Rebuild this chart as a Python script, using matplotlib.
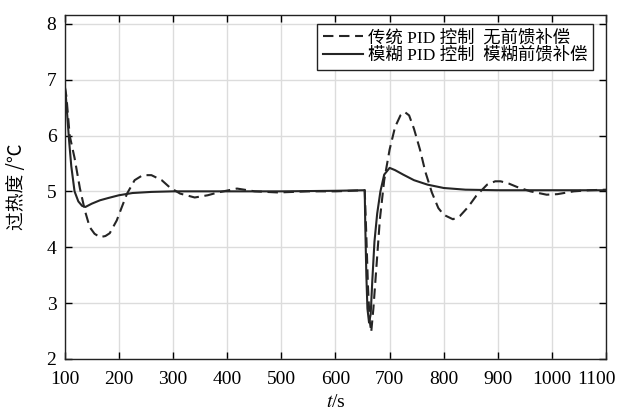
import matplotlib
matplotlib.use("Agg")
import matplotlib.pyplot as plt
import matplotlib.transforms as mtransforms

# ---- data ----
t_pid = [100, 103, 106, 109, 118, 128, 137, 146, 155, 165, 175, 183, 196, 205, 215,
         229, 244, 260, 279, 294, 313, 340, 364, 383, 418, 451, 494, 550, 600, 654,
         657, 660, 663, 666, 670, 676, 682, 690, 700, 710, 720, 728, 736, 745, 756,
         766, 778, 790, 800, 817, 830, 845, 860, 880, 895, 905, 920, 935, 960, 990,
         1010, 1040, 1070, 1100]
v_pid = [6.88, 6.7, 6.35, 6.0, 5.6, 5.05, 4.66, 4.36, 4.24, 4.18, 4.2, 4.25, 4.48, 4.71, 4.96,
         5.2, 5.29, 5.29, 5.2, 5.07, 4.96, 4.89, 4.93, 4.98, 5.05, 5.0, 4.98, 5.0, 5.0, 5.02,
         4.2, 3.3, 2.7, 2.48, 2.9, 3.7, 4.5, 5.2, 5.75, 6.15, 6.36, 6.42, 6.36, 6.12, 5.75,
         5.35, 4.98, 4.7, 4.58, 4.5, 4.56, 4.72, 4.92, 5.12, 5.18, 5.18, 5.14, 5.08, 5.0, 4.94,
         4.95, 5.0, 5.02, 5.03]

t_fuzzy = [100, 102, 105, 108, 112, 118, 125, 132, 138, 150, 165, 180, 200, 225, 260,
           300, 400, 500, 600, 654, 655, 657, 659, 662, 665, 668, 672, 677, 683, 690,
           700, 710, 725, 745, 770, 800, 840, 900, 1000, 1100]
v_fuzzy = [6.88, 6.7, 6.3, 5.9, 5.45, 5.0, 4.82, 4.74, 4.72, 4.78, 4.84, 4.88, 4.93, 4.97, 4.99,
           5.0, 5.0, 5.0, 5.01, 5.02, 4.4, 3.5, 2.9, 2.65, 2.8, 3.4, 4.1, 4.6, 5.0, 5.3,
           5.42, 5.38, 5.3, 5.2, 5.12, 5.06, 5.03, 5.02, 5.02, 5.02]

x_ticks = [100, 200, 300, 400, 500, 600, 700, 800, 900, 1000, 1100]
y_ticks = [2, 3, 4, 5, 6, 7, 8]
label_pid = "传统 PID 控制  无前馈补偿"
label_fuzzy = "模糊 PID 控制  模糊前馈补偿"

plt.rcParams['font.family'] = ['Liberation Serif', 'Noto Sans CJK SC', 'DejaVu Sans']
plt.rcParams['mathtext.fontset'] = 'stix'

fig = plt.figure(figsize=(6.23, 4.13), dpi=100)
ax = fig.add_axes([0.104, 0.131, 0.869, 0.833])

line_col = '#252525'
ax.plot(t_pid, v_pid, color=line_col, lw=1.5, dashes=(5, 2.7), label=label_pid)
ax.plot(t_fuzzy, v_fuzzy, color=line_col, lw=1.5, label=label_fuzzy)

ax.set_xlim(100, 1100)
ax.set_ylim(2, 8.16)
ax.set_xticks(x_ticks)
ax.set_yticks(y_ticks)
ax.grid(True, color='#dcdcdc', lw=1.0)
ax.set_axisbelow(True)
ax.tick_params(direction='in', top=True, right=True, length=5, width=1,
               labelsize=14)
ax.tick_params(axis='x', pad=9)
ax.tick_params(axis='y', pad=6)
for s in ax.spines.values():
    s.set_linewidth(1.0)
    s.set_color('#222222')

# shift the last x tick label left so it stays inside the figure
fig.canvas.draw()
last = ax.get_xticklabels()[-1]
last.set_transform(last.get_transform() +
                   mtransforms.ScaledTranslation(-10 / 100, 0, fig.dpi_scale_trans))

ax.set_xlabel("$t$/s", fontsize=14, labelpad=4)
ax.set_ylabel("过热度 /℃", fontsize=13.5, family=['Noto Sans CJK SC', 'DejaVu Sans'], labelpad=14)

leg = ax.legend(loc='upper right', fontsize=12.5, handlelength=2.3, handletextpad=0.25,
                borderpad=0.35, labelspacing=0.05, fancybox=False, framealpha=1,
                edgecolor='#222222', bbox_to_anchor=(0.976, 0.974), borderaxespad=0)
leg.get_frame().set_linewidth(1.0)

fig.savefig("out.png", dpi=100)
